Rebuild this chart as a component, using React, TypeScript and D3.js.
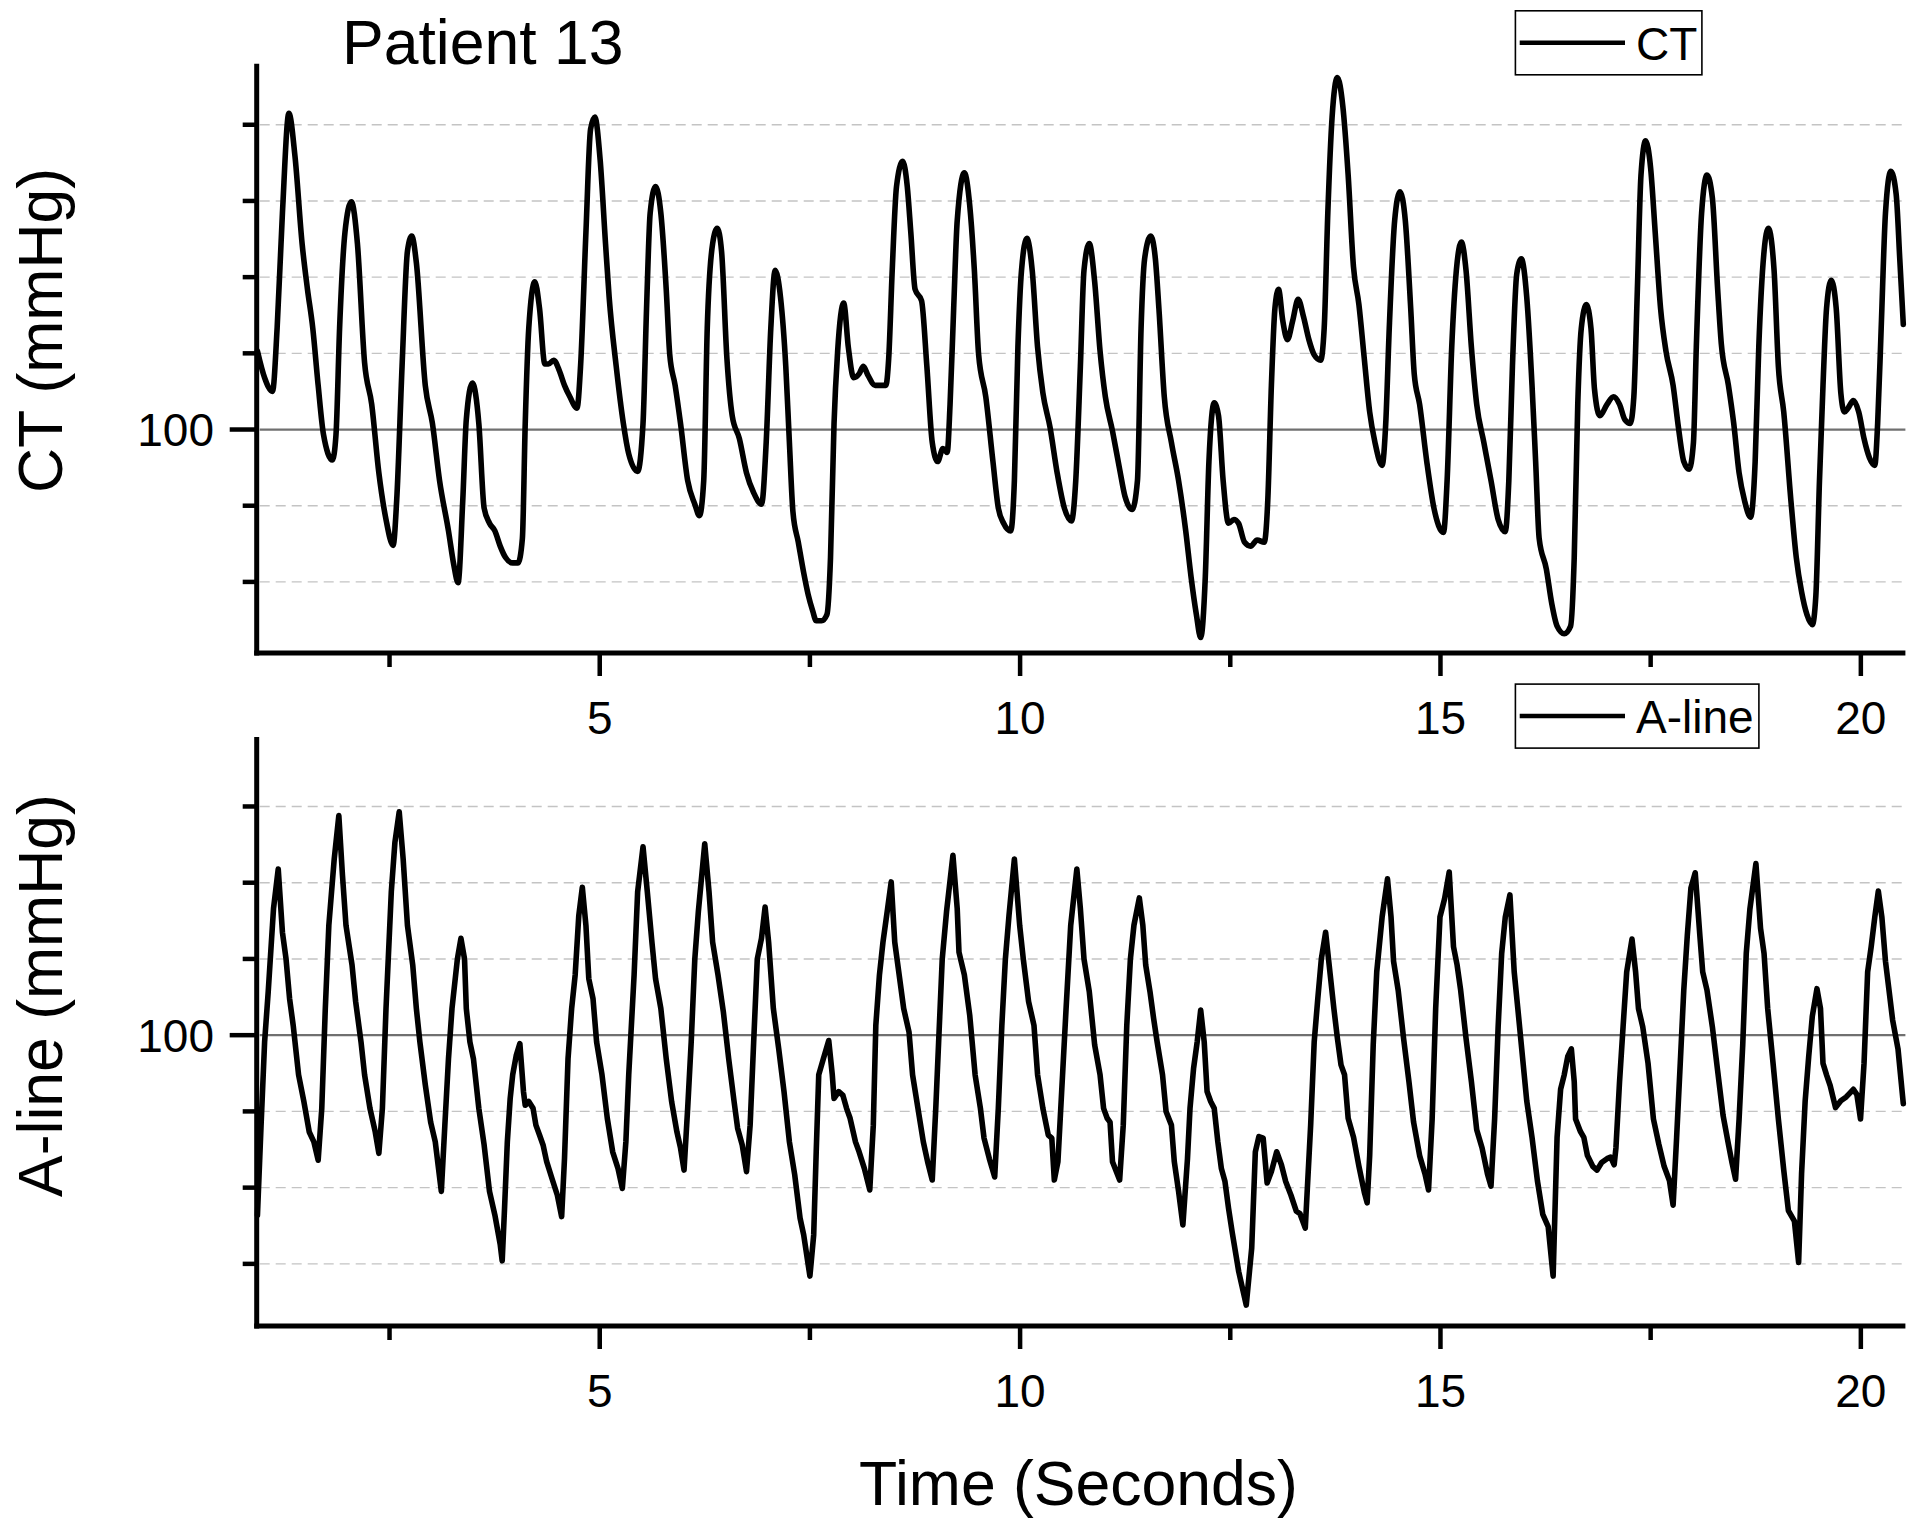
import React from 'react'
import * as d3 from 'd3'

// CT trace (top panel): time in seconds, pressure in mmHg
const ctTime = [
    0.929, 1.014, 1.108, 1.163, 1.226, 1.303, 1.375, 1.46, 1.524, 1.587, 1.651, 1.715, 1.821, 1.863, 1.906, 1.97,
    2.046, 2.118, 2.203, 2.288, 2.373, 2.458, 2.543, 2.585, 2.649, 2.713, 2.764, 2.819, 2.925, 3.01, 3.095, 3.201,
    3.265, 3.315, 3.371, 3.413, 3.485, 3.562, 3.625, 3.689, 3.753, 3.816, 3.88, 3.965, 4.029, 4.08, 4.114, 4.156,
    4.228, 4.284, 4.347, 4.39, 4.453, 4.517, 4.581, 4.645, 4.73, 4.772, 4.836, 4.891, 4.942, 5.005, 5.069, 5.112,
    5.196, 5.281, 5.345, 5.451, 5.515, 5.557, 5.6, 5.664, 5.727, 5.791, 5.833, 5.897, 5.961, 6.046, 6.131, 6.186,
    6.237, 6.279, 6.343, 6.398, 6.449, 6.513, 6.576, 6.661, 6.746, 6.831, 6.925, 6.98, 7.035, 7.086, 7.15, 7.213,
    7.256, 7.298, 7.362, 7.426, 7.48, 7.533, 7.575, 7.639, 7.702, 7.745, 7.787, 7.83, 7.902, 7.957, 8.021, 8.085,
    8.136, 8.191, 8.276, 8.403, 8.437, 8.479, 8.53, 8.603, 8.658, 8.7, 8.751, 8.828, 8.891, 8.955, 9.019, 9.082,
    9.133, 9.167, 9.21, 9.252, 9.337, 9.401, 9.456, 9.507, 9.592, 9.677, 9.741, 9.804, 9.889, 9.932, 9.974, 10.017,
    10.08, 10.144, 10.208, 10.271, 10.356, 10.441, 10.526, 10.611, 10.662, 10.717, 10.76, 10.823, 10.887, 10.951,
    11.014, 11.099, 11.184, 11.248, 11.333, 11.396, 11.439, 11.481, 11.554, 11.609, 11.651, 11.715, 11.8, 11.885,
    11.97, 12.033, 12.097, 12.148, 12.203, 12.246, 12.309, 12.36, 12.415, 12.479, 12.543, 12.598, 12.67, 12.742,
    12.819, 12.904, 12.946, 12.989, 13.031, 13.074, 13.124, 13.18, 13.243, 13.307, 13.371, 13.435, 13.498, 13.575,
    13.617, 13.66, 13.711, 13.774, 13.838, 13.902, 13.965, 14.03, 14.094, 14.158, 14.221, 14.306, 14.349, 14.391,
    14.455, 14.518, 14.582, 14.646, 14.688, 14.752, 14.837, 14.922, 15.036, 15.079, 15.134, 15.189, 15.249, 15.304,
    15.368, 15.431, 15.516, 15.601, 15.686, 15.771, 15.813, 15.856, 15.907, 15.962, 16.026, 16.089, 16.132, 16.174,
    16.259, 16.323, 16.387, 16.472, 16.548, 16.591, 16.633, 16.675, 16.735, 16.79, 16.832, 16.896, 16.981, 17.058,
    17.13, 17.193, 17.257, 17.3, 17.342, 17.385, 17.44, 17.499, 17.554, 17.618, 17.682, 17.767, 17.83, 17.894,
    17.958, 18.009, 18.043, 18.106, 18.17, 18.234, 18.297, 18.34, 18.425, 18.488, 18.552, 18.616, 18.688, 18.743,
    18.786, 18.849, 18.9, 18.968, 19.019, 19.083, 19.168, 19.232, 19.295, 19.359, 19.423, 19.465, 19.508, 19.55,
    19.592, 19.648, 19.707, 19.762, 19.805, 19.847, 19.911, 19.975, 20.038, 20.102, 20.166, 20.2, 20.242, 20.293,
    20.357, 20.42, 20.463, 20.505
]
const ctValue = [
    110.3, 106.8, 105.0, 113.3, 128.4, 141.5, 135.9, 124.4, 118.4, 113.3, 105.8, 99.3, 96.0, 99.3, 113.3, 125.9,
    129.9, 124.4, 108.8, 103.3, 94.3, 88.2, 84.8, 90.7, 108.3, 123.4, 125.4, 121.9, 105.8, 100.8, 93.3, 86.7,
    82.2, 79.9, 90.7, 101.3, 106.1, 100.8, 89.7, 87.7, 86.7, 84.7, 83.2, 82.5, 82.5, 85.7, 100.8, 113.3,
    119.4, 115.9, 108.6, 108.6, 109.1, 107.8, 105.8, 104.3, 102.8, 108.3, 125.9, 139.4, 141.0, 135.4, 124.4, 117.4,
    108.3, 100.8, 96.8, 94.5, 100.8, 115.9, 128.4, 131.9, 128.4, 118.4, 109.8, 105.8, 100.8, 93.3, 90.2, 88.7,
    93.3, 113.3, 124.4, 126.4, 123.4, 109.3, 101.8, 98.8, 94.3, 91.7, 90.2, 98.3, 113.3, 120.9, 117.4, 108.3,
    98.3, 89.2, 85.2, 81.2, 78.3, 76.2, 74.9, 74.9, 75.7, 83.2, 100.8, 110.3, 116.6, 110.8, 106.8, 107.3,
    108.3, 107.1, 105.8, 105.8, 109.3, 120.9, 131.9, 135.2, 131.9, 125.9, 118.4, 116.9, 108.3, 98.3, 95.8, 97.5,
    97.0, 103.3, 115.9, 127.4, 133.7, 129.4, 120.9, 109.8, 104.3, 95.8, 89.7, 87.7, 86.7, 93.3, 110.8, 120.9,
    125.1, 120.9, 110.8, 104.8, 100.3, 94.3, 89.7, 88.0, 93.3, 108.3, 120.9, 124.4, 119.4, 110.3,
    104.3, 99.8, 94.8, 91.2, 89.5, 93.3, 113.3, 122.4, 125.4, 122.4, 115.9, 104.3, 98.3, 93.3,
    86.7, 80.7, 75.7, 72.7, 80.7, 95.8, 103.5, 101.8, 93.3, 87.7, 88.2, 87.7, 85.2, 84.7,
    85.5, 85.2, 90.7, 105.8, 115.9, 118.4, 114.3, 111.8, 114.3, 117.1, 114.8, 111.8, 109.8, 109.1,
    113.3, 128.4, 141.0, 146.2, 142.5, 133.4, 121.4, 116.4, 109.3, 102.3, 98.3, 95.3, 100.8, 113.3,
    127.4, 131.2, 127.4, 115.9, 107.3, 103.3, 95.8, 89.7, 86.5, 93.3, 110.8, 120.9, 124.6, 120.9,
    110.8, 103.3, 98.3, 93.3, 88.2, 86.6, 93.3, 108.3, 120.4, 122.4, 117.4, 105.8, 95.8, 85.7,
    81.7, 77.2, 74.2, 73.2, 74.2, 83.2, 103.3, 113.3, 116.4, 113.3, 105.3, 101.8, 103.3, 104.3,
    103.3, 101.3, 100.8, 104.3, 118.4, 133.4, 137.9, 134.4, 125.9, 115.9, 110.3, 105.8, 100.3, 95.8,
    94.8, 98.3, 110.8, 128.4, 133.4, 130.4, 118.4, 111.3, 105.8, 100.8, 94.3, 90.7, 88.5, 95.8,
    110.8, 123.4, 126.4, 120.9, 108.3, 102.3, 90.7, 83.2, 78.7, 75.7, 74.4, 78.2, 93.3, 105.8,
    115.9, 119.6, 115.9, 104.8, 102.3, 102.8, 103.8, 102.3, 98.8, 96.3, 95.3, 100.8, 113.3, 128.4,
    133.9, 130.9, 122.4, 113.8
]

// A-line trace (bottom panel)
const alineTime = [
    0.929, 0.972, 1.014, 1.057, 1.12, 1.176, 1.226, 1.269, 1.311, 1.354, 1.418, 1.481, 1.545, 1.6, 1.651, 1.694,
    1.736, 1.778, 1.842, 1.897, 1.94, 1.982, 2.054, 2.097, 2.161, 2.203, 2.267, 2.33, 2.373, 2.415, 2.458, 2.521,
    2.564, 2.615, 2.662, 2.713, 2.776, 2.819, 2.861, 2.925, 2.989, 3.044, 3.116, 3.158, 3.201, 3.243, 3.307, 3.349,
    3.392, 3.413, 3.456, 3.498, 3.562, 3.625, 3.689, 3.753, 3.817, 3.84, 3.868, 3.901, 3.935, 3.965, 4.008, 4.05,
    4.093, 4.114, 4.156, 4.207, 4.241, 4.284, 4.326, 4.369, 4.432, 4.496, 4.547, 4.581, 4.623, 4.666, 4.708, 4.751,
    4.793, 4.836, 4.87, 4.92, 4.963, 5.027, 5.09, 5.154, 5.218, 5.269, 5.311, 5.345, 5.409, 5.451, 5.515, 5.566,
    5.621, 5.664, 5.727, 5.791, 5.855, 5.918, 5.961, 6.003, 6.046, 6.088, 6.131, 6.173, 6.249, 6.3, 6.343, 6.407,
    6.47, 6.534, 6.598, 6.64, 6.695, 6.746, 6.789, 6.831, 6.874, 6.924, 6.967, 7.009, 7.065, 7.128, 7.192, 7.256,
    7.319, 7.383, 7.426, 7.5, 7.545, 7.575, 7.605, 7.66, 7.724, 7.766, 7.787, 7.843, 7.893, 7.936, 7.978, 8.042,
    8.085, 8.148, 8.212, 8.254, 8.284, 8.327, 8.369, 8.424, 8.467, 8.509, 8.552, 8.615, 8.679, 8.721, 8.785, 8.849,
    8.9, 8.955, 8.997, 9.031, 9.074, 9.125, 9.201, 9.252, 9.273, 9.337, 9.401, 9.465, 9.528, 9.571, 9.634, 9.698,
    9.741, 9.783, 9.825, 9.868, 9.932, 9.995, 10.038, 10.101, 10.165, 10.208, 10.271, 10.335, 10.377, 10.407,
    10.45, 10.505, 10.547, 10.602, 10.675, 10.717, 10.76, 10.823, 10.887, 10.951, 10.993, 11.036, 11.07, 11.099,
    11.184, 11.227, 11.269, 11.312, 11.354, 11.418, 11.46, 11.494, 11.545, 11.588, 11.63, 11.694, 11.736, 11.8,
    11.834, 11.885, 11.936, 11.991, 12.021, 12.063, 12.106, 12.148, 12.19, 12.224, 12.267, 12.309, 12.352, 12.394,
    12.437, 12.479, 12.522, 12.6, 12.69, 12.755, 12.798, 12.84, 12.891, 12.938, 12.989, 13.052, 13.108, 13.159,
    13.222, 13.286, 13.328, 13.392, 13.456, 13.498, 13.541, 13.583, 13.634, 13.689, 13.732, 13.774, 13.817, 13.859,
    13.902, 13.966, 14.03, 14.094, 14.128, 14.158, 14.2, 14.242, 14.306, 14.37, 14.412, 14.442, 14.497, 14.561,
    14.625, 14.68, 14.752, 14.816, 14.858, 14.901, 14.943, 14.994, 15.049, 15.104, 15.155, 15.198, 15.24, 15.304,
    15.368, 15.431, 15.495, 15.559, 15.601, 15.644, 15.686, 15.728, 15.771, 15.826, 15.877, 15.92, 15.962, 16.026,
    16.089, 16.153, 16.217, 16.281, 16.34, 16.387, 16.429, 16.472, 16.514, 16.557, 16.591, 16.607, 16.663, 16.705,
    16.748, 16.811, 16.862, 16.917, 16.981, 17.024, 17.066, 17.087, 17.13, 17.172, 17.215, 17.278, 17.321, 17.355,
    17.406, 17.469, 17.533, 17.597, 17.66, 17.724, 17.767, 17.809, 17.852, 17.894, 17.936, 17.979, 18.03, 18.085,
    18.119, 18.17, 18.234, 18.297, 18.361, 18.425, 18.467, 18.51, 18.552, 18.595, 18.637, 18.68, 18.752, 18.807,
    18.849, 18.892, 18.956, 19.019, 19.083, 19.138, 19.21, 19.26, 19.295, 19.338, 19.38, 19.423, 19.478, 19.52,
    19.55, 19.592, 19.635, 19.699, 19.762, 19.826, 19.869, 19.911, 19.953, 19.996, 20.038, 20.081, 20.123, 20.166,
    20.208, 20.25, 20.293, 20.335, 20.378, 20.442, 20.505
]
const alineValue = [
    76.4, 88.2, 99.1, 105.7, 116.6, 121.8, 113.5, 110.0, 104.8, 101.3, 94.8, 91.3, 87.3, 86.0, 83.6, 90.4,
    103.5, 114.4, 123.1, 128.8, 121.0, 114.4, 109.2, 104.4, 99.1, 94.8, 90.4, 87.3, 84.5, 90.4, 103.5, 118.8,
    125.3, 129.3, 123.1, 114.4, 109.2, 103.5, 99.1, 93.5, 88.6, 86.0, 79.5, 88.2, 96.9, 103.5, 110.0, 112.7,
    110.0, 103.5, 99.1, 96.9, 90.4, 85.6, 79.5, 76.4, 72.5, 70.4, 77.3, 86.0, 91.7, 94.8, 97.4, 98.9,
    92.6, 90.8, 91.3, 90.4, 88.2, 86.9, 85.6, 83.4, 81.2, 79.0, 76.2, 83.8, 96.9, 103.5, 107.9, 115.7,
    119.4, 114.4, 107.4, 104.8, 99.1, 94.8, 89.1, 84.7, 82.5, 79.9, 86.0, 94.8, 107.9, 118.8, 124.7, 118.8,
    112.2, 107.4, 103.5, 96.9, 91.3, 87.3, 85.2, 82.3, 90.4, 99.1, 110.0, 116.2, 125.1, 118.8, 112.2, 107.9,
    103.1, 96.9, 91.3, 87.8, 85.6, 82.1, 88.2, 99.1, 110.0, 112.7, 116.8, 112.2, 103.5, 98.3, 92.6, 86.0,
    81.7, 76.0, 73.8, 68.4, 73.8, 84.7, 94.8, 96.9, 99.3, 94.8, 91.7, 92.6, 92.1, 90.4, 89.1, 86.0,
    84.7, 82.5, 79.7, 88.2, 101.3, 107.9, 112.2, 116.6, 120.1, 112.2, 108.7, 103.5, 100.4, 94.8, 90.4, 86.0,
    83.4, 81.0, 90.4, 99.1, 110.0, 116.2, 123.6, 116.6, 110.9, 107.9, 102.6, 94.8, 90.4, 86.5, 83.8, 81.4,
    90.4, 101.3, 110.0, 115.7, 123.1, 114.4, 110.0, 104.4, 101.3, 94.8, 90.4, 86.9, 86.5, 81.0,
    83.4, 94.8, 103.5, 114.4, 121.8, 116.6, 110.0, 105.7, 98.7, 94.8, 90.4, 89.1, 88.6, 83.4,
    81.0, 88.2, 101.3, 110.0, 114.4, 118.0, 114.4, 109.2, 105.7, 102.2, 99.1, 94.8, 90.0, 88.2,
    83.4, 79.5, 75.1, 83.8, 90.4, 95.6, 99.1, 103.3, 99.1, 92.6, 91.3, 90.4, 86.0, 82.5,
    80.8, 77.3, 74.2, 69.0, 64.6, 72.1, 84.7, 86.7, 86.5, 80.6, 82.1, 84.7, 83.0, 80.8,
    79.0, 76.9, 76.6, 74.7, 88.2, 99.1, 104.8, 110.0, 113.5, 107.9, 103.5, 99.6, 96.1, 94.8,
    89.1, 86.6, 82.8, 79.4, 78.0, 84.2, 98.7, 108.3, 115.5, 120.5, 115.5, 109.7, 105.9, 99.6,
    93.9, 88.6, 84.2, 81.8, 79.7, 89.0, 103.5, 115.5, 117.9, 121.4, 111.6, 109.2, 105.9, 99.6,
    93.9, 87.6, 85.2, 81.8, 80.2, 89.0, 101.1, 110.7, 115.5, 118.4, 108.3, 103.5, 98.7, 91.4,
    86.6, 80.9, 76.5, 74.9, 68.4, 86.6, 92.9, 94.8, 97.2, 98.2, 93.9, 89.0, 87.4, 86.6,
    84.2, 82.8, 82.3, 83.3, 83.8, 84.0, 83.0, 85.2, 93.9, 101.1, 108.3, 112.6, 108.3, 103.5,
    101.1, 96.3, 89.0, 85.7, 82.8, 80.9, 77.7, 86.6, 96.3, 105.9, 113.1, 119.3, 121.3, 113.1,
    108.3, 105.9, 101.1, 95.3, 89.5, 85.7, 83.3, 81.1, 89.0, 98.7, 110.7, 116.5, 122.5, 114.0,
    110.7, 103.5, 96.3, 89.0, 82.3, 77.0, 75.6, 70.2, 81.8, 91.4, 97.2, 102.5, 106.1, 103.5,
    96.3, 94.8, 93.4, 90.5, 91.4, 91.9, 92.4, 92.9, 92.2, 89.0, 96.3, 108.3, 111.6, 115.5,
    118.9, 115.5, 109.7, 105.9, 102.0, 98.2, 91.0
]

const xTicks = [2.5, 5, 7.5, 10, 12.5, 15, 17.5, 20]
const xLabels = [5, 10, 15, 20]
const yLabels = [100]

const FONT = "'Liberation Sans', Arial, Helvetica, sans-serif"
const LEFT = 256.7
const RIGHT = 1905.4

const x = d3.scaleLinear().domain([0.92, 20.53]).range([LEFT, RIGHT])

const Panel = ({ time, value, top, bottom, domain, label, labelY, legend, legendWidth, smooth }) => {
    const y = d3.scaleLinear().domain(domain).range([bottom, top])
    const yTicks = y.ticks(8)
    const line = d3
        .line()
        .x((d, i) => x(time[i]))
        .y(d => y(d))
        .curve(smooth ? d3.curveMonotoneX : d3.curveLinear)
    const boxTop = top - 53

    return (
        <g>
            {/* grid */}
            {yTicks.map(t => (
                <line
                    key={'g' + t}
                    x1={LEFT + 3}
                    x2={RIGHT}
                    y1={y(t)}
                    y2={y(t)}
                    stroke={t === 100 ? '#707070' : '#c4c4c4'}
                    strokeWidth={t === 100 ? 2.2 : 1.4}
                    strokeDasharray={t === 100 ? null : '10 6'}
                />
            ))}

            {/* trace */}
            <path
                d={line(value)}
                fill='none'
                stroke='#000'
                strokeWidth={5.6}
                strokeLinejoin='round'
                strokeLinecap='round'
            />

            {/* left axis */}
            <line x1={LEFT} x2={LEFT} y1={top} y2={bottom + 2.5} stroke='#000' strokeWidth={5} />
            {yTicks.map(t => (
                <line
                    key={'yt' + t}
                    x1={LEFT - (t % 50 === 0 ? 27 : 14)}
                    x2={LEFT}
                    y1={y(t)}
                    y2={y(t)}
                    stroke='#000'
                    strokeWidth={4.5}
                />
            ))}
            {yLabels.map(t => (
                <text
                    key={'yl' + t}
                    x={214}
                    y={y(t) + 16.5}
                    textAnchor='end'
                    fontSize={46}
                    fontFamily={FONT}
                >
                    {t}
                </text>
            ))}

            {/* bottom axis */}
            <line x1={LEFT - 2.5} x2={RIGHT} y1={bottom} y2={bottom} stroke='#000' strokeWidth={5} />
            {xTicks.map(t => (
                <line
                    key={'xt' + t}
                    x1={x(t)}
                    x2={x(t)}
                    y1={bottom}
                    y2={bottom + (t % 5 === 0 ? 23 : 14)}
                    stroke='#000'
                    strokeWidth={4.5}
                />
            ))}
            {xLabels.map(t => (
                <text
                    key={'xl' + t}
                    x={x(t)}
                    y={bottom + 81}
                    textAnchor='middle'
                    fontSize={46}
                    fontFamily={FONT}
                >
                    {t}
                </text>
            ))}

            {/* y label */}
            <text
                transform={`translate(62, ${labelY}) rotate(-90)`}
                textAnchor='middle'
                fontSize={62.5}
                fontFamily={FONT}
            >
                {label}
            </text>

            {/* legend */}
            <rect
                x={1515.4}
                y={boxTop}
                width={legendWidth}
                height={64}
                fill='#fff'
                stroke='#000'
                strokeWidth={1.6}
            />
            <line x1={1519.7} x2={1625} y1={boxTop + 32} y2={boxTop + 32} stroke='#000' strokeWidth={4.5} />
            <text x={1636} y={boxTop + 49} fontSize={46} fontFamily={FONT}>
                {legend}
            </text>
        </g>
    )
}

const App = () => {
    return (
        <div style={{ position: 'absolute', left: 0, top: 0 }}>
            <svg width={1920} height={1532} style={{ display: 'block', background: '#fff' }}>
                <rect width={1920} height={1532} fill='#fff' />
                <text x={342} y={64} fontSize={62.5} fontFamily={FONT}>
                    Patient 13
                </text>
                <Panel
                    time={ctTime}
                    value={ctValue}
                    top={63.8}
                    bottom={653}
                    domain={[70.67, 148]}
                    label='CT (mmHg)'
                    labelY={330.5}
                    legend='CT'
                    legendWidth={186.5}
                    smooth
                />
                <Panel
                    time={alineTime}
                    value={alineValue}
                    top={737.1}
                    bottom={1326}
                    domain={[61.85, 139.1]}
                    label='A-line (mmHg)'
                    labelY={995.5}
                    legend='A-line'
                    legendWidth={243.5}
                    smooth={false}
                />
                <text x={1078.5} y={1505} textAnchor='middle' fontSize={62.5} fontFamily={FONT}>
                    Time (Seconds)
                </text>
            </svg>
        </div>
    )
}

export default App
